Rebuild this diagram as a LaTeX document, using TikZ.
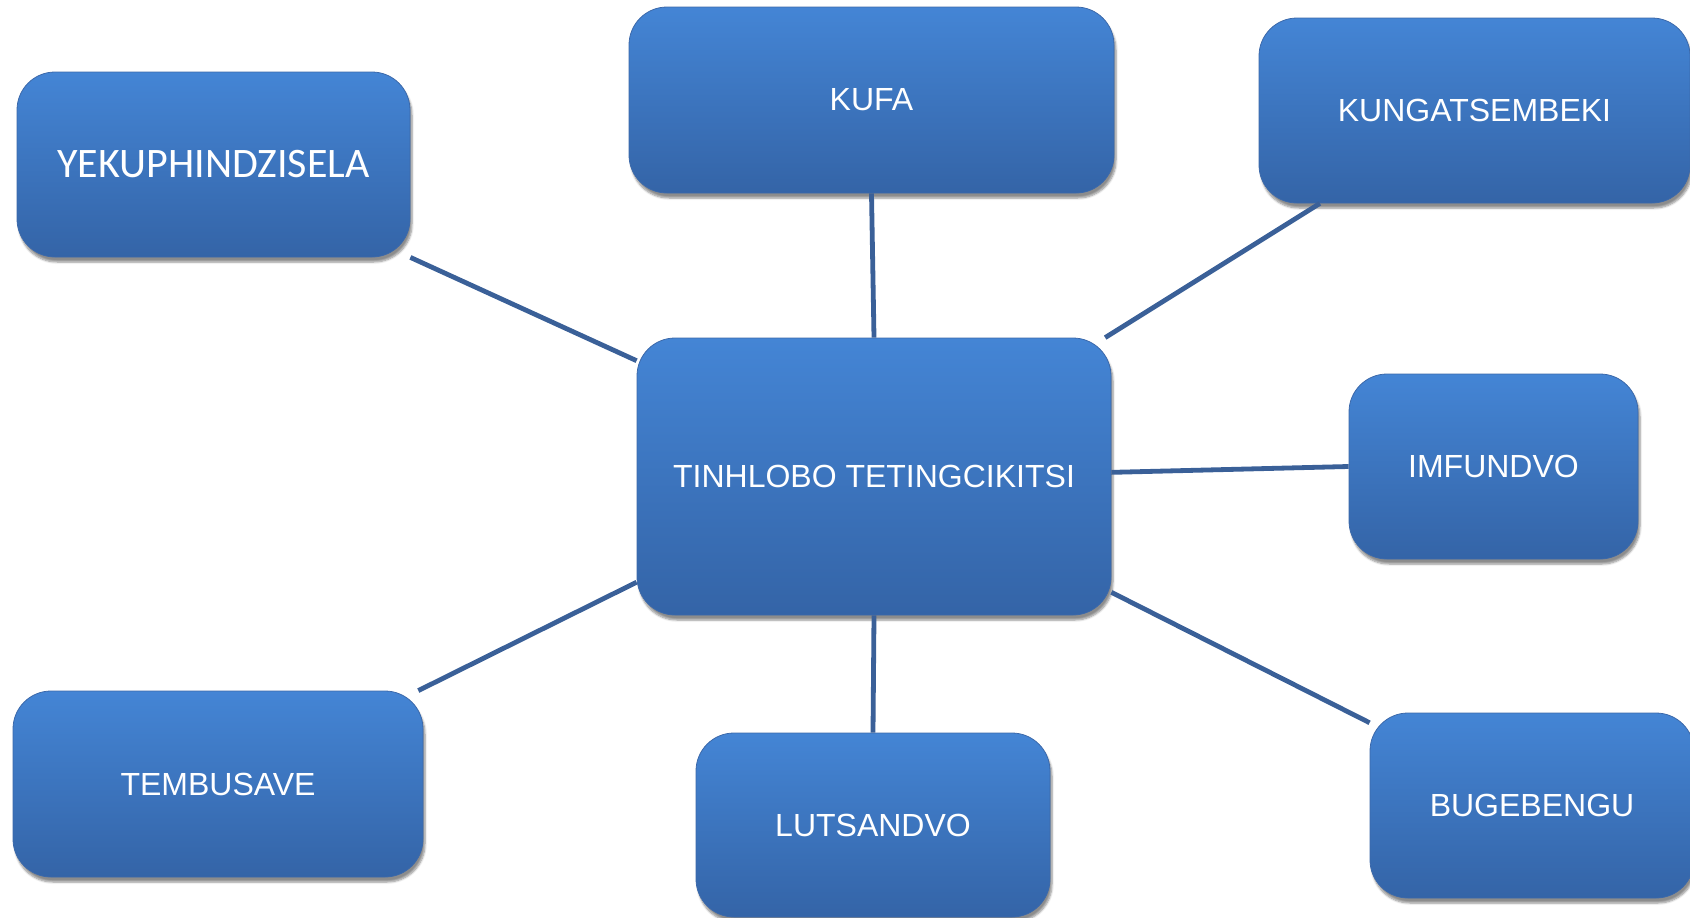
\documentclass[tikz,border=0pt]{standalone}
\usepackage{fontspec}
\setmainfont{Liberation Sans}
\newfontfamily\calibrifont{Carlito}
\usetikzlibrary{shadows.blur}
\definecolor{boxtop}{RGB}{68,133,213}
\definecolor{boxbot}{RGB}{52,100,167}
\definecolor{boxedge}{RGB}{60,105,170}
\definecolor{linkblue}{RGB}{58,96,152}

\begin{document}
\begin{tikzpicture}[x=1pt,y=-1pt,
    topic/.style={rounded corners=38pt, top color=boxtop, bottom color=boxbot,
      draw=boxedge, line width=0.8pt, text=white, font=\fontsize{32}{36}\selectfont,
      blur shadow={shadow xshift=2pt, shadow yshift=-5pt, shadow blur steps=6, shadow opacity=45},
      inner sep=0pt},
    link/.style={linkblue, line width=4.8pt}]
      \useasboundingbox (0,0) rectangle (1690,918);

      \node[topic, minimum width=474pt, minimum height=277pt] (cen) at (874,476.5) {TINHLOBO TETINGCIKITSI};

      \node[topic, minimum width=393pt, minimum height=185pt, font=\calibrifont\fontsize{42}{46}\selectfont] (yek) at (213.5,164.5) {YEKUPHINDZISELA};
      \node[topic, minimum width=485pt, minimum height=186pt] (kufa) at (871.5,100) {KUFA};
      \node[topic, minimum width=431pt, minimum height=185pt] (kung) at (1474.5,110.5) {KUNGATSEMBEKI};
      \node[topic, minimum width=289pt, minimum height=185pt] (imf) at (1493.5,466.5) {IMFUNDVO};
      \node[topic, minimum width=410pt, minimum height=186pt] (temb) at (218,784) {TEMBUSAVE};
      \node[topic, minimum width=354pt, minimum height=184pt] (luts) at (873,825) {LUTSANDVO};
      \node[topic, minimum width=324pt, minimum height=185pt] (bug) at (1532,805.5) {BUGEBENGU};

      \draw[link] (yek.south east) -- (cen.154.6);
      \draw[link] (kufa.south) -- (cen.north);
      \draw[link] (cen.31.3) -- (kung.211.8);
      \draw[link] (cen.1.3) -- (imf.180.6);
      \draw[link] (cen.-26.5) -- (bug.153.2);
      \draw[link] (cen.south) -- (luts.north);
      \draw[link] (cen.204.8) -- (temb.25.5);
    \end{tikzpicture}
\end{document}
